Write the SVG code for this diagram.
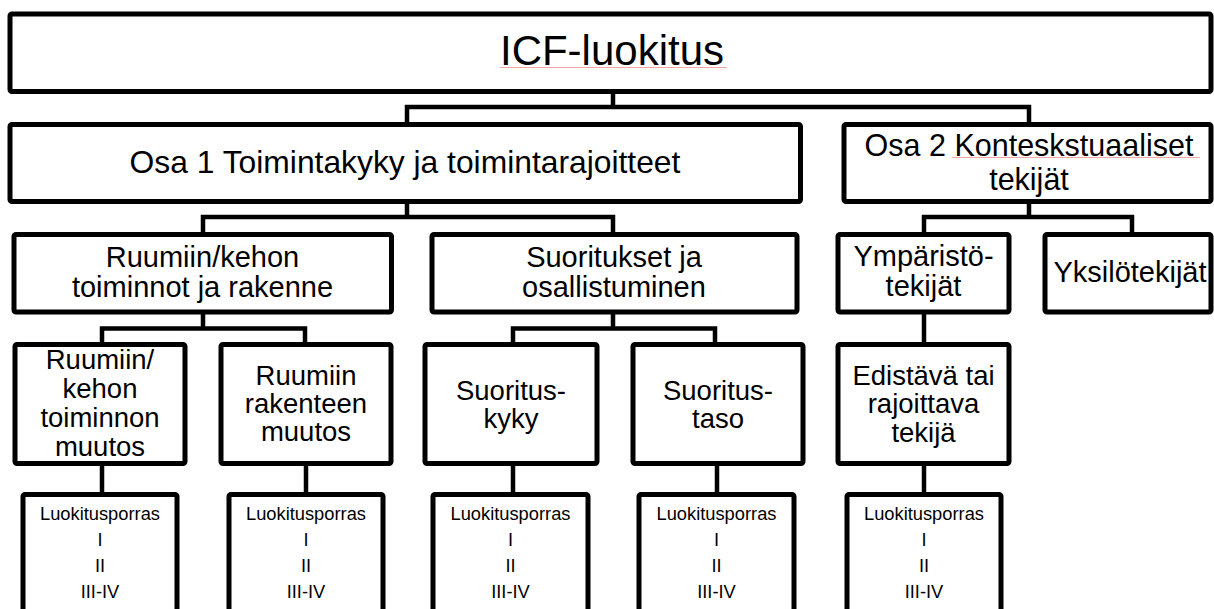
<svg xmlns="http://www.w3.org/2000/svg" width="1214" height="609" viewBox="0 0 1214 609">
<style>
.box{fill:#fff;stroke:#000;stroke-width:5;stroke-linejoin:round}
.con{fill:none;stroke:#000;stroke-width:4.5;stroke-linejoin:miter}
text{font-family:"Liberation Sans",Arial,sans-serif;fill:#000;text-anchor:middle}
.t0{font-size:42px}
.t1{font-size:31.8px}
.t1b{font-size:30.5px}
.t2{font-size:29px}
.t3{font-size:27.5px}
.t4{font-size:18.3px}
.sp{stroke:#f08080;stroke-width:1;opacity:0.7;fill:none}
</style>
<rect width="1214" height="609" fill="#fff"/>
<g id="connectors">
<path class="con" d="M613 92V107M407 124.5V107H1029V124.5"/>
<path class="con" d="M407 201.5V217M203 234.5V217H613V234.5"/>
<path class="con" d="M1029 201.5V217M924 234.5V217H1132V234.5"/>
<path class="con" d="M203 312V328.5M102 344.5V328.5H305V344.5"/>
<path class="con" d="M613 312V328.5M513 344.5V328.5H715V344.5"/>
<path class="con" d="M924 312V344.5"/>
<path class="con" d="M102 463.5V494.5M306 463.5V494.5M513 463.5V494.5M717 463.5V494.5M924 463.5V494.5"/>
</g>
<g id="n-icf">
<rect class="box" x="10" y="14" width="1201" height="77.5" rx="2"/>
<text class="t0" x="612" y="65">ICF-luokitus</text>
<path class="sp" d="M500 67.5H727"/>
</g>
<g id="n-osa1">
<rect class="box" x="10" y="124.5" width="790.5" height="77" rx="2"/>
<text class="t1" x="405" y="173">Osa 1 Toimintakyky ja toimintarajoitteet</text>
</g>
<g id="n-osa2">
<rect class="box" x="844" y="124.5" width="367" height="77" rx="2"/>
<text class="t1b"><tspan x="1029" y="156">Osa 2 Konteskstuaaliset</tspan><tspan x="1029" y="190">tekijät</tspan></text>
<path class="sp" d="M952 157.5H1200"/>
</g>
<g id="n-ruumiin">
<rect class="box" x="14" y="234.5" width="377.5" height="77.5" rx="2"/>
<text class="t2"><tspan x="202.5" y="267">Ruumiin/kehon</tspan><tspan x="202.5" y="297">toiminnot ja rakenne</tspan></text>
</g>
<g id="n-suoritukset">
<rect class="box" x="432" y="234.5" width="365" height="77.5" rx="2"/>
<text class="t2"><tspan x="614" y="267">Suoritukset ja</tspan><tspan x="614" y="297">osallistuminen</tspan></text>
</g>
<g id="n-ymparisto">
<rect class="box" x="838" y="234.5" width="171" height="77.5" rx="2"/>
<text class="t2"><tspan x="923.5" y="266">Ympäristö-</tspan><tspan x="923.5" y="296">tekijät</tspan></text>
</g>
<g id="n-yksilo">
<rect class="box" x="1045" y="234.5" width="166" height="77.5" rx="2"/>
<text class="t2" x="1130" y="282">Yksilötekijät</text>
</g>
<g id="n-toiminnon">
<rect class="box" x="15" y="344.5" width="170" height="119" rx="2"/>
<text class="t3"><tspan x="100" y="369">Ruumiin/</tspan><tspan x="100" y="398">kehon</tspan><tspan x="100" y="427">toiminnon</tspan><tspan x="100" y="456">muutos</tspan></text>
</g>
<g id="n-rakenteen">
<rect class="box" x="221" y="344.5" width="170" height="119" rx="2"/>
<text class="t3"><tspan x="306" y="385">Ruumiin</tspan><tspan x="306" y="413">rakenteen</tspan><tspan x="306" y="441">muutos</tspan></text>
</g>
<g id="n-kyky">
<rect class="box" x="425" y="344.5" width="172" height="119" rx="2"/>
<text class="t3"><tspan x="511" y="400">Suoritus-</tspan><tspan x="511" y="428">kyky</tspan></text>
</g>
<g id="n-taso">
<rect class="box" x="633" y="344.5" width="170" height="119" rx="2"/>
<text class="t3"><tspan x="718" y="400">Suoritus-</tspan><tspan x="718" y="428">taso</tspan></text>
</g>
<g id="n-edistava">
<rect class="box" x="838" y="344.5" width="171" height="119" rx="2"/>
<text class="t3"><tspan x="923.5" y="385">Edistävä tai</tspan><tspan x="923.5" y="413">rajoittava</tspan><tspan x="923.5" y="442">tekijä</tspan></text>
</g>
<g id="n-luok1">
<rect class="box" x="23" y="494.5" width="154" height="130" rx="2"/>
<text class="t4"><tspan x="100" y="520">Luokitusporras</tspan><tspan x="100" y="546">I</tspan><tspan x="100" y="572">II</tspan><tspan x="100" y="598">III-IV</tspan></text>
</g>
<g id="n-luok2">
<rect class="box" x="229" y="494.5" width="154" height="130" rx="2"/>
<text class="t4"><tspan x="306" y="520">Luokitusporras</tspan><tspan x="306" y="546">I</tspan><tspan x="306" y="572">II</tspan><tspan x="306" y="598">III-IV</tspan></text>
</g>
<g id="n-luok3">
<rect class="box" x="433" y="494.5" width="155" height="130" rx="2"/>
<text class="t4"><tspan x="510.5" y="520">Luokitusporras</tspan><tspan x="510.5" y="546">I</tspan><tspan x="510.5" y="572">II</tspan><tspan x="510.5" y="598">III-IV</tspan></text>
</g>
<g id="n-luok4">
<rect class="box" x="639" y="494.5" width="155" height="130" rx="2"/>
<text class="t4"><tspan x="716.5" y="520">Luokitusporras</tspan><tspan x="716.5" y="546">I</tspan><tspan x="716.5" y="572">II</tspan><tspan x="716.5" y="598">III-IV</tspan></text>
</g>
<g id="n-luok5">
<rect class="box" x="847" y="494.5" width="154" height="130" rx="2"/>
<text class="t4"><tspan x="924" y="520">Luokitusporras</tspan><tspan x="924" y="546">I</tspan><tspan x="924" y="572">II</tspan><tspan x="924" y="598">III-IV</tspan></text>
</g>
</svg>
